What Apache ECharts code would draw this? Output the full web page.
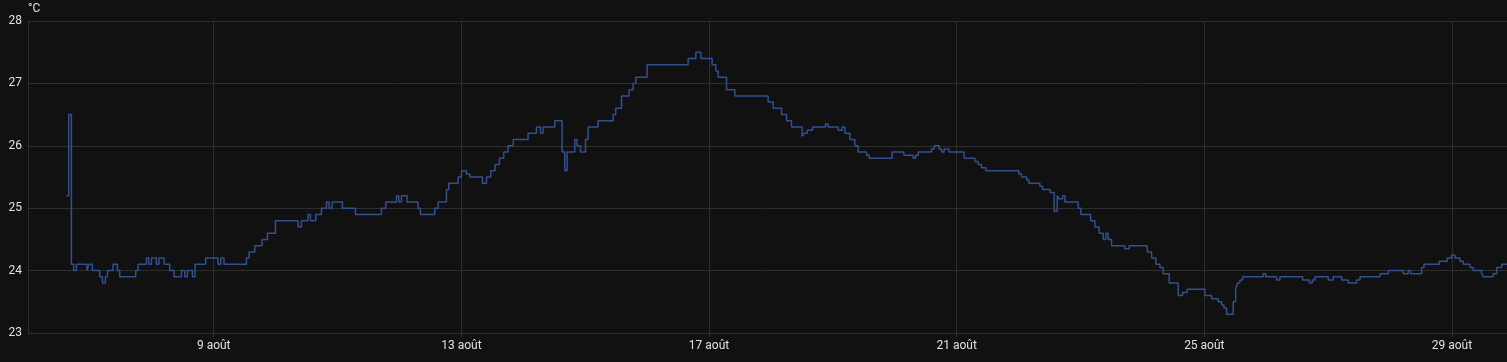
<!DOCTYPE html>
<html>
<head>
<meta charset="utf-8">
<script src="https://cdn.jsdelivr.net/npm/echarts@6/dist/echarts.min.js"></script>
<style>
html,body{margin:0;padding:0;background:#111111;}
#chart{width:1507px;height:362px;}
</style>
</head>
<body>
<div id="chart"></div>
<script>
// x values: day of August (fractional), y values: temperature in °C
const days = [
6.620,6.658,6.701,6.738,6.782,6.953,6.985,7.040,7.158,7.202,7.250,7.283,7.373,7.444,7.481,7.740,7.777,7.913,7.950,7.994,
8.074,8.116,8.197,8.289,8.359,8.478,8.532,8.575,8.656,8.698,8.871,9.069,9.113,9.166,9.528,9.570,9.662,9.780,9.868,9.997,
10.362,10.417,10.523,10.562,10.648,10.740,10.821,10.863,10.911,11.079,11.289,11.709,11.779,11.952,11.989,12.032,12.123,12.300,12.339,12.570,
12.624,12.759,12.796,12.947,13.002,13.082,13.136,13.341,13.406,13.475,13.544,13.614,13.685,13.755,13.838,14.078,14.213,14.278,14.320,14.509,
14.627,14.670,14.708,14.832,14.869,14.924,15.005,15.047,15.208,15.451,15.494,15.586,15.709,15.774,15.817,16.000,16.662,16.787,16.868,17.050,
17.110,17.147,17.283,17.417,17.955,18.036,18.171,18.252,18.333,18.504,18.536,18.585,18.672,18.882,18.924,19.086,19.150,19.194,19.275,19.355,
19.409,19.544,19.586,19.958,20.147,20.297,20.336,20.378,20.594,20.637,20.717,20.756,20.798,20.874,21.121,21.294,21.347,21.402,21.472,22.005,
22.048,22.129,22.166,22.344,22.388,22.506,22.575,22.624,22.656,22.711,22.748,22.963,23.006,23.163,23.232,23.302,23.367,23.410,23.447,23.502,
23.717,23.787,24.078,24.149,24.218,24.283,24.336,24.433,24.578,24.649,24.724,25.010,25.118,25.225,25.279,25.317,25.360,25.467,25.506,25.538,
25.575,25.619,25.952,25.990,26.168,26.221,26.588,26.695,26.743,26.787,27.002,27.082,27.218,27.325,27.460,27.514,27.837,27.971,28.213,28.294,
28.333,28.510,28.548,28.795,28.924,28.995,29.048,29.129,29.183,29.291,29.344,29.480,29.506,29.667,29.722,29.803,29.889
];
const temps = [
25.2,26.5,24.1,24.0,24.1,24.0,24.1,24.0,23.9,23.8,23.9,24.0,24.1,24.0,23.9,24.0,24.1,24.2,24.1,24.2,
24.1,24.2,24.1,24.0,23.9,24.0,23.9,24.0,23.9,24.1,24.2,24.1,24.2,24.1,24.2,24.3,24.4,24.5,24.6,24.8,
24.7,24.8,24.9,24.8,24.9,25.0,25.1,25.0,25.1,25.0,24.9,25.0,25.1,25.2,25.1,25.2,25.1,25.0,24.9,25.0,
25.1,25.3,25.4,25.5,25.6,25.55,25.5,25.4,25.5,25.6,25.7,25.8,25.9,26.0,26.1,26.2,26.3,26.2,26.3,26.4,
25.9,25.6,25.9,26.1,26.0,25.9,26.1,26.3,26.4,26.5,26.6,26.8,26.9,27.0,27.1,27.3,27.4,27.5,27.4,27.3,
27.2,27.1,26.9,26.8,26.7,26.6,26.5,26.4,26.3,26.15,26.2,26.25,26.3,26.35,26.3,26.25,26.3,26.2,26.1,26.0,
25.9,25.85,25.8,25.9,25.85,25.8,25.85,25.9,25.95,26.0,25.95,25.9,25.95,25.9,25.8,25.75,25.7,25.65,25.6,25.55,
25.5,25.45,25.4,25.35,25.3,25.25,24.95,25.2,25.15,25.2,25.1,25.0,24.9,24.8,24.7,24.6,24.5,24.6,24.5,24.4,
24.35,24.4,24.3,24.2,24.1,24.05,23.95,23.8,23.6,23.65,23.7,23.6,23.55,23.5,23.45,23.4,23.3,23.5,23.7,23.8,
23.85,23.9,23.95,23.9,23.85,23.9,23.85,23.8,23.85,23.9,23.85,23.9,23.85,23.8,23.85,23.9,23.95,24.0,23.95,24.0,
23.95,24.05,24.1,24.15,24.2,24.25,24.2,24.15,24.1,24.05,24.0,23.95,23.9,23.95,24.05,24.1,24.1
];
const xTicks = [9, 13, 17, 21, 25, 29];
const yTicks = [23, 24, 25, 26, 27, 28];
const monthLabel = 'août';
const unit = '°C';

const points = days.map((d, i) => [d, temps[i]]);
const gridColor = '#2e2e2e';
const textColor = '#e1e1e1';

const chart = echarts.init(document.getElementById('chart'));
chart.setOption({
  backgroundColor: '#111111',
  animation: false,
  grid: { left: 28, right: 0, top: 21, bottom: 29, containLabel: false },
  xAxis: {
    type: 'value',
    min: 6.0,
    max: 29.889,
    axisLine: { show: false },
    axisTick: { show: true, customValues: xTicks, length: 4, lineStyle: { color: gridColor } },
    axisLabel: {
      customValues: xTicks,
      color: textColor, fontSize: 12, fontFamily: 'Roboto', margin: 7,
      formatter: v => Math.round(v) + ' ' + monthLabel
    },
    splitLine: { show: true, lineStyle: { color: gridColor, width: 1 } }
  },
  yAxis: {
    type: 'value',
    min: yTicks[0],
    max: yTicks[yTicks.length - 1],
    interval: 1,
    name: unit,
    nameLocation: 'end',
    nameGap: 6,
    nameTextStyle: { color: textColor, fontSize: 12, fontFamily: 'Roboto', align: 'left' },
    axisLine: { show: true, lineStyle: { color: gridColor } },
    axisTick: { show: false },
    axisLabel: { color: textColor, fontSize: 12, fontFamily: 'Roboto', margin: 6 },
    splitLine: { show: true, lineStyle: { color: gridColor, width: 1 } }
  },
  series: [{
    type: 'line',
    step: 'end',
    data: points,
    showSymbol: false,
    symbol: 'none',
    lineStyle: { color: '#32508e', width: 1.5 },
    itemStyle: { color: '#32508e' }
  }]
});
</script>
</body>
</html>
